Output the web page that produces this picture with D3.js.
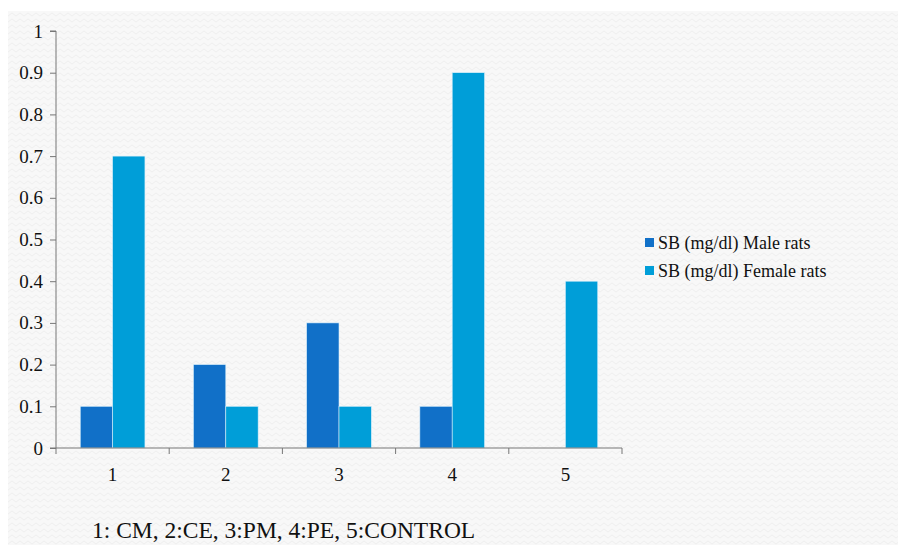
<!DOCTYPE html>
<html><head><meta charset="utf-8">
<script src="https://cdn.jsdelivr.net/npm/d3@7"></script>
<style>
html,body{margin:0;padding:0;background:#fff;}
svg{display:block;}
</style></head>
<body>
<svg id="chart" width="898" height="545"></svg>
<script>
const categories = ["1","2","3","4","5"];
const seriesNames = ["SB (mg/dl) Male rats","SB (mg/dl) Female rats"];
const maleValues = [0.1,0.2,0.3,0.1,0];
const femaleValues = [0.7,0.1,0.1,0.9,0.4];
const yTicks = [0,0.1,0.2,0.3,0.4,0.5,0.6,0.7,0.8,0.9,1];
const footnote = "1: CM, 2:CE, 3:PM, 4:PE, 5:CONTROL";
const colors = ["#1170c8","#009ed8"];
const FONT = '"Liberation Serif","Times New Roman",serif';

const svg = d3.select("#chart");
const defs = svg.append("defs");
const pat = defs.append("pattern").attr("id","zig").attr("width",8).attr("height",6).attr("patternUnits","userSpaceOnUse");
pat.append("rect").attr("width",8).attr("height",6).attr("fill","#f8f8f8");
pat.append("path").attr("d","M0,4 L4,1 L8,4").attr("stroke","#efefef").attr("stroke-width",1).attr("fill","none");
svg.append("rect").attr("x",8).attr("y",11).attr("width",890).attr("height",534).attr("fill","url(#zig)");

const x0 = 56, x1 = 622, yTop = 31, yBase = 448;
const x = d3.scaleBand().domain(categories).range([x0,x1]).padding(0);
const y = d3.scaleLinear().domain([0,1]).range([yBase,yTop]);

const barW = x.bandwidth()/3.5;
const series = [maleValues, femaleValues];
series.forEach((vals,si)=>{
  svg.append("g").selectAll("rect").data(categories).join("rect")
    .attr("x",(c)=>x(c)+x.bandwidth()/2 + (si-1)*barW)
    .attr("y",(c,i)=>y(vals[i]))
    .attr("width",barW)
    .attr("height",(c,i)=>yBase-y(vals[i]))
    .attr("fill",colors[si])
    .attr("stroke",(c,i)=>vals[i]>0?"#d8eefa":"none")
    .attr("stroke-width",0.6);
});

const yAxis = d3.axisLeft(y).tickValues(yTicks).tickSize(6).tickPadding(7).tickFormat(d=>d3.format("")(+d.toFixed(1)));
const gy = svg.append("g").attr("transform",`translate(${x0},0)`).call(yAxis);
gy.select(".domain").attr("stroke","#777").attr("d",`M-6,${yTop}H0V${yBase}H-6`);
gy.selectAll(".tick line").attr("stroke","#777");
gy.selectAll("text").style("font-family",FONT).style("font-size","19px").attr("fill","#111");

const xAxis = d3.axisBottom(x).tickSize(0).tickPadding(20);
const gx = svg.append("g").attr("transform",`translate(0,${yBase})`).call(xAxis);
gx.select(".domain").attr("stroke","#777").attr("d",`M${x0},0H${x1}`);
gx.selectAll("text").style("font-family",FONT).style("font-size","19px").attr("fill","#111");
const bounds = categories.map(c=>x(c)).concat([x1]);
gx.selectAll("line.sep").data(bounds).join("line").attr("class","sep")
  .attr("x1",d=>d).attr("x2",d=>d).attr("y1",0).attr("y2",6).attr("stroke","#777");

const lg = svg.append("g");
seriesNames.forEach((n,i)=>{
  const cy = 243 + i*28;
  lg.append("rect").attr("x",645).attr("y",cy-5).attr("width",9).attr("height",9).attr("fill",colors[i]);
  lg.append("text").attr("x",658).attr("y",cy).attr("dy","0.35em")
    .style("font-family",FONT).style("font-size","18px").attr("fill","#111").text(n);
});

svg.append("text").attr("x",92).attr("y",538)
  .style("font-family",FONT).style("font-size","23.5px").attr("fill","#111").text(footnote);
</script>
</body></html>
